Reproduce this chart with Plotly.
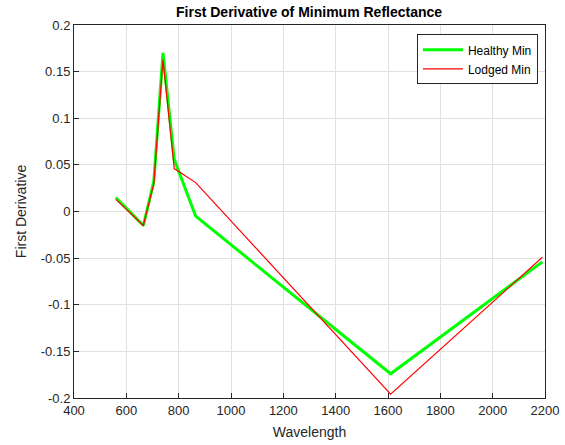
import plotly.graph_objects as go

wavelength = [560, 665, 705, 740, 783, 865, 1610, 2190]
healthy_min = [0.015, -0.015, 0.032, 0.170, 0.056, -0.005, -0.174, -0.054]
lodged_min = [0.013, -0.015, 0.030, 0.163, 0.046, 0.031, -0.196, -0.049]

x_ticks = [400, 600, 800, 1000, 1200, 1400, 1600, 1800, 2000, 2200]
y_ticks = [0.2, 0.15, 0.1, 0.05, 0, -0.05, -0.1, -0.15, -0.2]
y_tick_text = ["0.2", "0.15", "0.1", "0.05", "0", "-0.05", "-0.1", "-0.15", "-0.2"]

fig = go.Figure()
fig.add_trace(go.Scatter(x=wavelength, y=healthy_min, mode="lines", name="Healthy Min",
                         line=dict(color="#00ff00", width=3)))
fig.add_trace(go.Scatter(x=wavelength, y=lodged_min, mode="lines", name="Lodged Min",
                         line=dict(color="#ff0000", width=1.2)))

axis_common = dict(showline=True, linecolor="#262626", linewidth=1, mirror=True,
                   ticks="inside", ticklen=5, tickcolor="#262626", automargin=False,
                   showgrid=True, gridcolor="#e0e0e0", gridwidth=1, zeroline=False,
                   tickfont=dict(family="Liberation Sans, Arial", size=13, color="#262626"))

fig.update_xaxes(range=[400, 2200], tickvals=x_ticks, ticktext=[str(v) for v in x_ticks],
                 title=dict(text="Wavelength", standoff=10,
                            font=dict(family="Liberation Sans, Arial", size=14, color="#262626")),
                 **axis_common)
fig.update_yaxes(range=[-0.2, 0.2], tickvals=y_ticks, ticktext=y_tick_text,
                 title=dict(text="First Derivative", standoff=10,
                            font=dict(family="Liberation Sans, Arial", size=14, color="#262626")),
                 **axis_common)

fig.update_layout(
    width=565, height=445,
    margin=dict(l=74, r=20, t=25, b=47),
    paper_bgcolor="white", plot_bgcolor="white",
    title=dict(text="<b>First Derivative of Minimum Reflectance</b>", x=0.547, xanchor="center",
               y=1 - 12 / 445, yanchor="middle", yref="container",
               font=dict(family="Liberation Sans, Arial", size=14, color="#000000")),
    legend=dict(x=0.985, y=0.975, xanchor="right", yanchor="top",
                bgcolor="white", bordercolor="#262626", borderwidth=1,
                font=dict(family="Liberation Sans, Arial", size=12, color="#000000"),
                tracegroupgap=0, itemwidth=40),
    showlegend=True,
)

fig.write_html("out.html")
